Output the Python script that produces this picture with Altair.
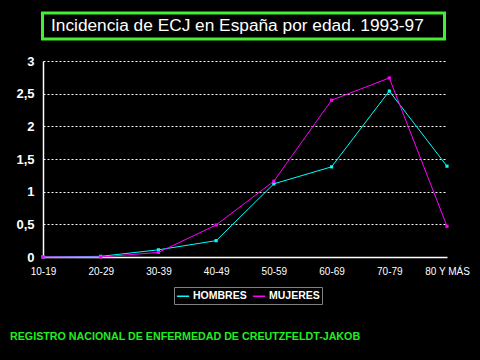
import altair as alt
import pandas as pd

categories = ["10-19", "20-29", "30-39", "40-49", "50-59", "60-69", "70-79", "80 Y MÁS"]
hombres = [0.0, 0.01, 0.11, 0.25, 1.12, 1.38, 2.54, 1.39]
mujeres = [0.0, 0.0, 0.07, 0.49, 1.16, 2.40, 2.74, 0.47]
series = ["HOMBRES", "MUJERES"]
colors = ["#00FFFF", "#FF00FF"]
title_text = "Incidencia de ECJ en España por edad. 1993-97"
footer_text = "REGISTRO NACIONAL DE ENFERMEDAD DE CREUTZFELDT-JAKOB"

rows = []
for c, h, m in zip(categories, hombres, mujeres):
    rows.append({"edad": c, "sexo": "HOMBRES", "valor": h})
    rows.append({"edad": c, "sexo": "MUJERES", "valor": m})
df = pd.DataFrame(rows)

FONT = "Liberation Sans"

x = alt.X("edad:N", sort=categories, scale=alt.Scale(type="point", padding=0),
          axis=alt.Axis(title=None, labelAngle=0, labelColor="white", labelFont=FONT,
                        labelFontSize=10, labelPadding=9, ticks=False, domainColor="white",
                        domainWidth=1.5, grid=False))
y = alt.Y("valor:Q", scale=alt.Scale(domain=[0, 3], nice=False),
          axis=alt.Axis(title=None, values=[0, 0.5, 1, 1.5, 2, 2.5, 3],
                        labelExpr="replace(format(datum.value, '.1~f'), '.', ',')",
                        labelColor="white", labelFont=FONT, labelFontSize=13,
                        labelFontWeight="bold", labelPadding=9, ticks=False,
                        domainColor="white", domainWidth=1.5, grid=True,
                        gridColor="white", gridDash=[2, 2], gridWidth=1))
color = alt.Color("sexo:N", scale=alt.Scale(domain=series, range=colors),
                  legend=alt.Legend(title=None, orient="none", legendX=131, legendY=226,
                                    direction="horizontal", strokeColor="#808080",
                                    padding=2, labelColor="white", labelFont=FONT,
                                    labelFontSize=10.5, labelFontWeight="bold",
                                    symbolType="stroke", symbolSize=150,
                                    symbolStrokeWidth=1.5, columnPadding=2,
                                    labelOffset=3))

base = alt.Chart(df)
lines = base.mark_line(strokeWidth=1, clip=False).encode(x=x, y=y, color=color)
points = base.mark_square(size=10, opacity=1, clip=False).encode(
    x=x, y=y, color=alt.Color("sexo:N", scale=alt.Scale(domain=series, range=colors), legend=None))

box_df = pd.DataFrame({"t": [title_text]})
title_box = alt.Chart(box_df).mark_rect(fill="black", stroke="#44EE33", strokeWidth=3).encode(
    x=alt.value(-0.5), x2=alt.value(401.5), y=alt.value(-48), y2=alt.value(-22))
title = alt.Chart(box_df).mark_text(color="white", font=FONT, fontSize=17.3, align="left",
                                    baseline="middle").encode(
    x=alt.value(8), y=alt.value(-35), text="t:N")
foot_df = pd.DataFrame({"t": [footer_text]})
footer = alt.Chart(foot_df).mark_text(color="#22EE22", font=FONT, fontSize=10.7,
                                      fontWeight="bold", align="left", baseline="middle").encode(
    x=alt.value(-33), y=alt.value(276), text="t:N")

chart = alt.layer(lines, points, title_box, title, footer).properties(
    width=404, height=196, background="black",
    padding={"left": 43, "top": 61, "right": 33, "bottom": 103},
    autosize=alt.AutoSizeParams(type="none"),
).configure_view(stroke=None)

chart.save("out.html", embed_options={"renderer": "svg", "actions": False})
